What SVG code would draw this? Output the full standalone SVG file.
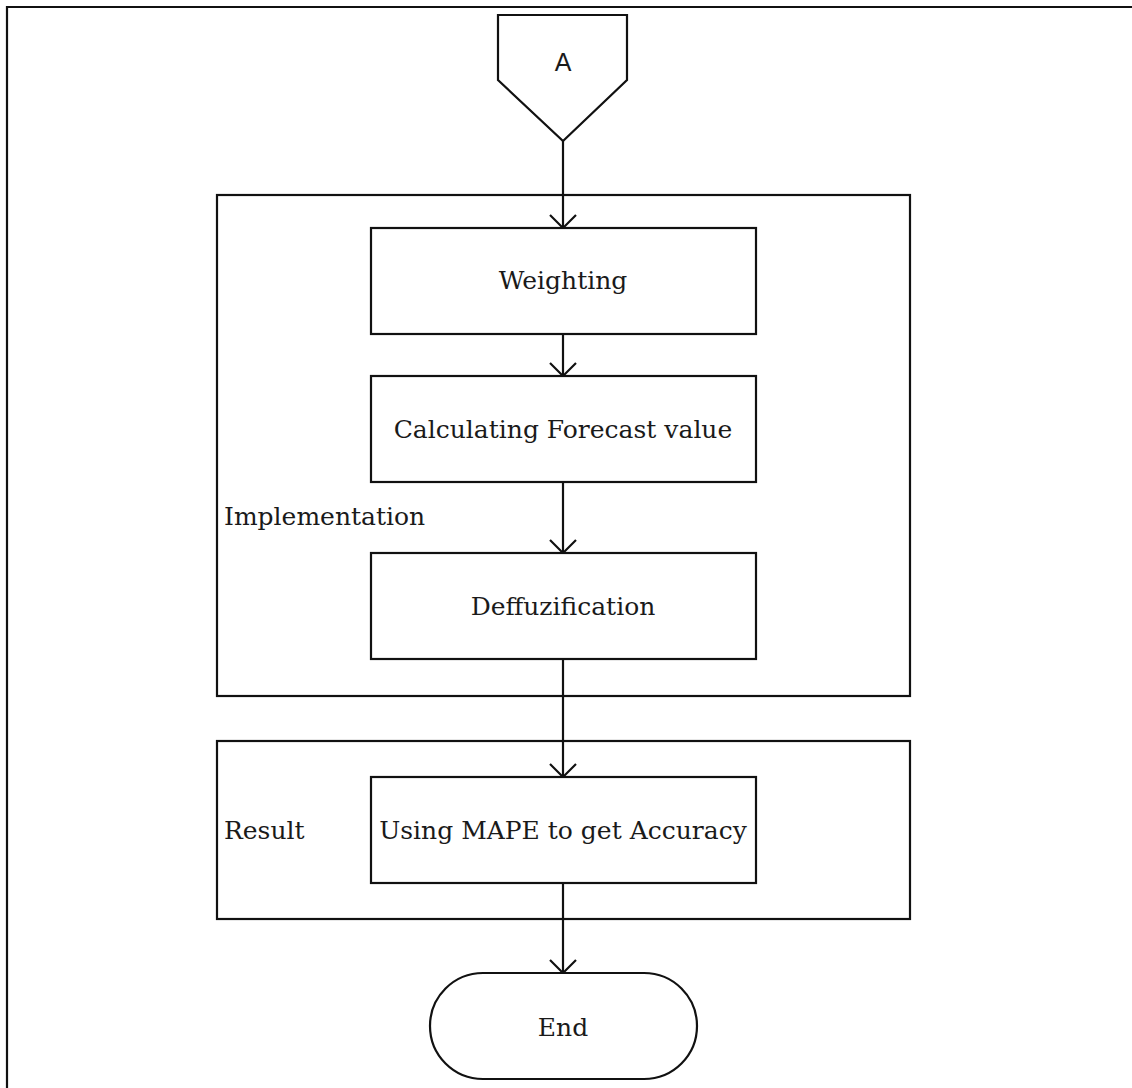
<svg xmlns="http://www.w3.org/2000/svg" width="1132" height="1088" viewBox="0 0 1132 1088">
  <style>
    .shape { fill: #ffffff; stroke: #111111; stroke-width: 2.2; }
    .frame { fill: none; stroke: #111111; stroke-width: 2.2; }
    .conn { fill: none; stroke: #111111; stroke-width: 2.2; }
    .lbl { font-family: "DejaVu Serif", "Liberation Serif", serif; font-size: 25px; fill: #1a1a1a; }
    .mid { text-anchor: middle; }
    .sans { font-family: "Liberation Sans", Arial, sans-serif; font-size: 25px; fill: #1a1a1a; text-anchor: middle; }
  </style>
  <defs>
    <marker id="arr" viewBox="0 0 30 30" refX="28" refY="15" markerWidth="30" markerHeight="30" markerUnits="userSpaceOnUse" orient="auto">
      <path d="M15 2 L28 15 L15 28" fill="none" stroke="#111111" stroke-width="2.2"/>
    </marker>
  </defs>
  <rect width="1132" height="1088" fill="#ffffff"/>
  <path class="frame" d="M7 1088 L7 7 L1132 7"/>

  <g id="implementation-group">
    <rect class="frame" x="217" y="195" width="693" height="501"/>
    <text class="lbl" x="224" y="525">Implementation</text>
  </g>
  <g id="result-group">
    <rect class="frame" x="217" y="741" width="693" height="178"/>
    <text class="lbl" x="224" y="839">Result</text>
  </g>

  <g id="connectors">
    <path class="conn" d="M563 141 L563 228" marker-end="url(#arr)"/>
    <path class="conn" d="M563 334 L563 376" marker-end="url(#arr)"/>
    <path class="conn" d="M563 482 L563 553" marker-end="url(#arr)"/>
    <path class="conn" d="M563 659 L563 777" marker-end="url(#arr)"/>
    <path class="conn" d="M563 883 L563 973" marker-end="url(#arr)"/>
  </g>

  <g id="node-a">
    <path class="shape" d="M498 15 L627 15 L627 80 L563 141 L498 80 Z"/>
    <text class="sans" x="563" y="71">A</text>
  </g>
  <g id="node-weighting">
    <rect class="shape" x="371" y="228" width="385" height="106"/>
    <text class="lbl mid" x="563" y="289">Weighting</text>
  </g>
  <g id="node-forecast">
    <rect class="shape" x="371" y="376" width="385" height="106"/>
    <text class="lbl mid" x="563" y="438">Calculating Forecast value</text>
  </g>
  <g id="node-deff">
    <rect class="shape" x="371" y="553" width="385" height="106"/>
    <text class="lbl mid" x="563" y="615">Deffuzification</text>
  </g>
  <g id="node-mape">
    <rect class="shape" x="371" y="777" width="385" height="106"/>
    <text class="lbl mid" x="563" y="839">Using MAPE to get Accuracy</text>
  </g>
  <g id="node-end">
    <rect class="shape" x="430" y="973" width="267" height="106" rx="53" ry="53"/>
    <text class="lbl mid" x="563" y="1036">End</text>
  </g>
</svg>
